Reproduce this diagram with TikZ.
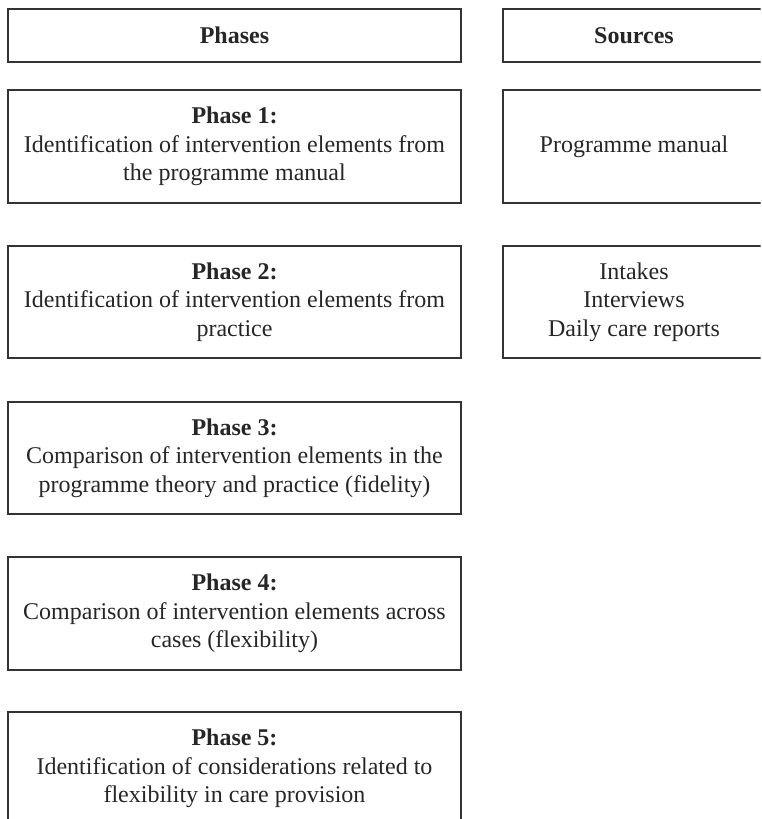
\documentclass[tikz,border=0pt]{standalone}
\usepackage{fontspec}
\setmainfont{Liberation Serif}
\begin{document}
\begin{tikzpicture}[x=1pt,y=-1pt,
  box/.style={draw=black!80, line width=1.1pt, rectangle, align=center, inner sep=0pt,
    font=\fontsize{24}{28.5}\selectfont, text=black!85},
  lbox/.style={box, minimum width=453pt},
  rbox/.style={box, minimum width=262pt},
  hbox/.style={minimum height=53pt},
  tbox/.style={minimum height=113pt}]
\useasboundingbox (0,0) rectangle (761,819);
\clip (0,0) rectangle (760.5,819);
\node[lbox,hbox] (hphase) at (234.5,35.5) {\textbf{Phases}};
\node[rbox,hbox] (hsrc) at (634,35.5) {\textbf{Sources}};
\node[lbox,tbox] (p1) at (234.5,146.5) {\textbf{Phase 1:}\\Identification of intervention elements from\\the programme manual};
\node[rbox,tbox] (s1) at (634,146.5) {Programme manual};
\node[lbox,tbox,minimum height=112pt] (p2) at (234.5,302) {\textbf{Phase 2:}\\Identification of intervention elements from\\practice};
\node[rbox,tbox,minimum height=112pt] (s2) at (634,302) {Intakes\\Interviews\\Daily care reports};
\node[lbox,tbox,minimum height=112pt] (p3) at (234.5,458) {\textbf{Phase 3:}\\Comparison of intervention elements in the\\programme theory and practice (fidelity)};
\node[lbox,tbox] (p4) at (234.5,613.5) {\textbf{Phase 4:}\\Comparison of intervention elements across\\cases (flexibility)};
\node[lbox,tbox] (p5) at (234.5,768.5) {\textbf{Phase 5:}\\Identification of considerations related to\\flexibility in care provision};
\end{tikzpicture}
\end{document}
